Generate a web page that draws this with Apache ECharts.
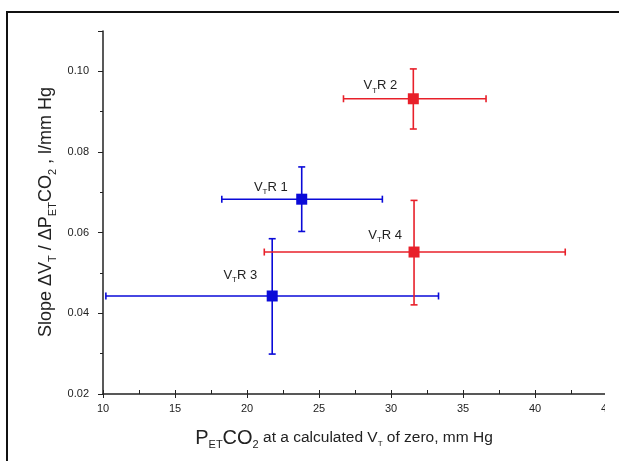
<!DOCTYPE html>
<html>
<head>
<meta charset="utf-8">
<script src="https://cdn.jsdelivr.net/npm/echarts@6/dist/echarts.min.js"></script>
<style>
  html, body { margin: 0; padding: 0; background: #fff; }
  #chart { width: 619px; height: 461px; }
</style>
</head>
<body>
<div id="chart"></div>
<script>
// data
const runNames = ["R1", "R2", "R3", "R4"];
const runGroup = ["blue", "red", "blue", "red"];
const petco2 = [23.8, 31.55, 21.75, 31.6];
const petco2Low = [18.25, 26.7, 10.2, 21.2];
const petco2High = [29.4, 36.6, 33.3, 42.1];
const slope = [0.0683, 0.0932, 0.0443, 0.0552];
const slopeLow = [0.0603, 0.0857, 0.0299, 0.0421];
const slopeHigh = [0.0763, 0.1006, 0.0585, 0.068];
const xTicks = [10, 15, 20, 25, 30, 35, 40, 45];
const yTicks = [0.02, 0.04, 0.06, 0.08, 0.10];

const colors = { red: "#e8202a", blue: "#0a0ad8" };
// label shift (dx of right edge from marker, dy) per run
const labelShift = [[-14, -12], [-16, -13], [-15, -21], [-12, -17]];

const chart = echarts.init(document.getElementById("chart"));

const font = "'Liberation Sans', Arial, sans-serif";

function groupData(g) {
  const out = [];
  runNames.forEach((n, i) => {
    if (runGroup[i] === g) {
      out.push({
        name: n,
        value: [petco2[i], slope[i], petco2Low[i], petco2High[i], slopeLow[i], slopeHigh[i]],
        label: {
          show: true,
          position: "left",
          distance: -labelShift[i][0] - 5.5,
          offset: [0, labelShift[i][1]],
          formatter: "{v|V}{s|T}{r|" + n.charAt(0) + " " + n.charAt(1) + "}",
          rich: {
            v: { fontSize: 13, color: "#222", fontFamily: font },
            s: { fontSize: 8, color: "#222", fontFamily: font, verticalAlign: "bottom", padding: [10, 0, 0, 0] },
            r: { fontSize: 13, color: "#222", fontFamily: font },
          },
        },
      });
    }
  });
  return out;
}

function errorBars(color) {
  return function (params, api) {
    const x = api.value(0), y = api.value(1);
    const pL = api.coord([api.value(2), y]);
    const pR = api.coord([api.value(3), y]);
    const pB = api.coord([x, api.value(4)]);
    const pT = api.coord([x, api.value(5)]);
    const c = 3.5;
    const st = { stroke: color, lineWidth: 1.6 };
    const ln = (x1, y1, x2, y2) => ({ type: "line", shape: { x1, y1, x2, y2 }, style: st });
    return {
      type: "group",
      children: [
        ln(pL[0], pL[1], pR[0], pR[1]),
        ln(pL[0], pL[1] - c, pL[0], pL[1] + c),
        ln(pR[0], pR[1] - c, pR[0], pR[1] + c),
        ln(pB[0], pB[1], pT[0], pT[1]),
        ln(pB[0] - c, pB[1], pB[0] + c, pB[1]),
        ln(pT[0] - c, pT[1], pT[0] + c, pT[1]),
      ],
    };
  };
}

const series = [];
["blue", "red"].forEach((g) => {
  const d = groupData(g);
  series.push({
    type: "custom",
    renderItem: errorBars(colors[g]),
    data: d.map((it) => it.value),
    z: 2,
    silent: true,
  });
  series.push({
    type: "scatter",
    symbol: "rect",
    symbolSize: 11,
    itemStyle: { color: colors[g], opacity: 1 },
    data: d,
    z: 3,
  });
});

const axisCommon = {
  axisLine: { show: true, lineStyle: { color: "#222", width: 1.5 } },
  splitLine: { show: false },
};

chart.setOption({
  animation: false,
  grid: { left: 103, right: 12, top: 31, bottom: 67 },
  xAxis: [
    Object.assign({}, axisCommon, {
      type: "value",
      min: xTicks[0],
      max: xTicks[xTicks.length - 1],
      interval: 5,
      axisTick: { show: true, inside: true, length: 4, lineStyle: { color: "#222" } },
      minorTick: { show: true, splitNumber: 2, length: 4, lineStyle: { color: "#222" } },
      axisLabel: { margin: 9, fontSize: 11, color: "#222", fontFamily: font },
    }),
    {
      type: "value",
      position: "bottom",
      min: xTicks[0],
      max: xTicks[xTicks.length - 1],
      interval: 5,
      axisLine: { show: false },
      axisTick: { show: true, length: 4, lineStyle: { color: "#222" } },
      axisLabel: { show: false },
      splitLine: { show: false },
    },
  ],
  yAxis: Object.assign({}, axisCommon, {
    type: "value",
    min: 0.02,
    max: 0.11,
    interval: 0.02,
    axisTick: { show: true, length: 5, lineStyle: { color: "#222" } },
    minorTick: { show: true, splitNumber: 2, length: 3, lineStyle: { color: "#222" } },
    axisLabel: {
      margin: 14,
      fontSize: 11,
      color: "#222",
      fontFamily: font,
      formatter: (v) => (yTicks.some((t) => Math.abs(t - v) < 1e-9) ? v.toFixed(2) : ""),
    },
  }),
  series: series,
  graphic: [
    // mask the cropped right edge
    { type: "rect", shape: { x: 605, y: 13, width: 20, height: 460 }, style: { fill: "#fff" }, z: 100 },
    // figure frame
    { type: "rect", shape: { x: 7, y: 12, width: 640, height: 480 }, style: { fill: null, stroke: "#111", lineWidth: 2 }, z: 101 },
    {
      type: "text",
      x: 344,
      y: 438,
      z: 50,
      style: {
        text: "{b|P}{s|ET}{b|CO}{s|2}{m| at a calculated V}{t|T}{m| of zero, mm Hg}",
        align: "center",
        verticalAlign: "middle",
        rich: {
          b: { fontSize: 20, fontFamily: font, fill: "#222" },
          s: { fontSize: 11, fontFamily: font, fill: "#222", padding: [13, 0, 0, 0] },
          m: { fontSize: 15.5, fontFamily: font, fill: "#222" },
          t: { fontSize: 8, fontFamily: font, fill: "#222", padding: [11, 0, 0, 0] },
        },
      },
    },
    {
      type: "text",
      x: 46,
      y: 212,
      rotation: Math.PI / 2,
      z: 50,
      style: {
        text: "{m|Slope ΔV}{s|T}{m| / ΔP}{s|ET}{m|CO}{s|2}{m| , l/mm Hg}",
        align: "center",
        verticalAlign: "middle",
        rich: {
          m: { fontSize: 18, fontFamily: font, fill: "#222" },
          s: { fontSize: 11, fontFamily: font, fill: "#222", padding: [13, 0, 0, 0] },
        },
      },
    },
  ],
});
</script>
</body>
</html>
